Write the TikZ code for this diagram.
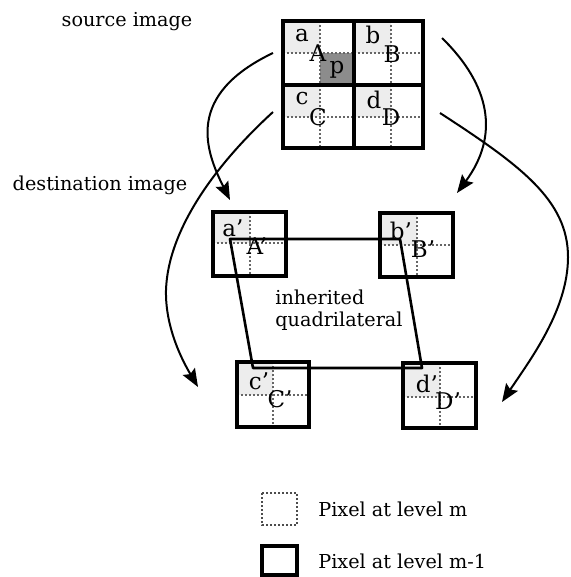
\documentclass[tikz,border=0pt]{standalone}
\usepackage{fontspec}
\setmainfont{DejaVu Serif}
\usetikzlibrary{arrows.meta}
\definecolor{lightpix}{gray}{0.93}
\definecolor{darkpix}{gray}{0.55}
\definecolor{dotgray}{gray}{0.4}

\begin{document}
\begin{tikzpicture}[x=0.5pt,y=-0.5pt,
    every node/.style={inner sep=0pt,font=\fontsize{9.6}{11}\selectfont},
    letter/.style={font=\fontsize{11.5}{12}\selectfont},
    pixel/.style={draw,line width=1.6pt},
    subpix/.style={draw=dotgray,line width=0.85pt,dash pattern=on 0.9pt off 1.1pt},
    quad/.style={draw,line width=1.3pt,line join=round},
    mapto/.style={draw,line width=1pt,-{Stealth[length=9pt,width=7pt,inset=1.5pt]}}]
    \useasboundingbox (0,0) rectangle (571,577);
    % source image: four pixels of level m-1
    \fill[darkpix] (320,53) rectangle (354,85);
    \foreach \x/\y/\mx/\my/\X/\Y in {283/21/320/53/354/85, 354/21/391/53/423/85,
      283/85/320/117/354/148, 354/85/391/117/423/148}
    {
      \fill[lightpix] (\x,\y) rectangle (\mx,\my);
      \draw[subpix] (\mx,\y) -- (\mx,\Y) (\x,\my) -- (\X,\my);
      \draw[pixel] (\x,\y) rectangle (\X,\Y);
    }
    \node[letter] (sa) at (302,36) {a};
    \node[letter] (sA) at (318,53) {A};
    \node[letter] (sp) at (337,70) {p};
    \node[letter] (sb) at (373,35) {b};
    \node[letter] (sB) at (392,54) {B};
    \node[letter] (sc) at (302,99) {c};
    \node[letter] (sC) at (318,117) {C};
    \node[letter] (sd) at (374,100) {d};
    \node[letter] (sD) at (391,117) {D};
    % destination image
    \foreach \x/\y/\mx/\my/\X/\Y in {213/212/250/243/286/276, 380/213/417/245/453/277,
      237/362/273/395/309/427, 403/363/440/397/476/428}
    {
      \fill[lightpix] (\x,\y) rectangle (\mx,\my);
      \draw[subpix] (\mx,\y) -- (\mx,\Y) (\x,\my) -- (\X,\my);
      \draw[pixel] (\x,\y) rectangle (\X,\Y);
    }
    \node[letter] (da) at (233,228) {a’};
    \node[letter] (dA) at (257,246) {A’};
    \node[letter] (db) at (401,231) {b’};
    \node[letter] (dB) at (423,249) {B’};
    \node[letter] (dc) at (259,381) {c’};
    \node[letter] (dC) at (280,399) {C’};
    \node[letter] (dd) at (427,384) {d’};
    \node[letter] (dD) at (448,401) {D’};
    % inherited quadrilateral
    \coordinate (qa) at (230,239);
    \coordinate (qb) at (400,239);
    \coordinate (qd) at (422,368);
    \coordinate (qc) at (253,368);
    \draw[quad] (qa) -- (qb) -- (qd) -- (qc) -- cycle;
    \node[align=left,anchor=west] (inh) at (275,310) {inherited\\quadrilateral};
    % captions
    \node (src) at (127,22) {source image};
    \node (dst) at (100,185) {destination image};
    % mappings
    \coordinate (fa) at (273,53);  \coordinate (ta) at (230,200);
    \coordinate (fb) at (442,38);  \coordinate (tb) at (457,193);
    \coordinate (fc) at (273,112); \coordinate (tc) at (198,387);
    \coordinate (fd) at (440,113); \coordinate (td) at (502,402);
    \draw[mapto] (fa) .. controls (185,95) and (205,150) .. (ta);
    \draw[mapto] (fb) .. controls (490,85) and (500,135) .. (tb);
    \draw[mapto] (fc) .. controls (215,165) and (168,230) .. (166,290)
      .. controls (165,330) and (185,365) .. (tc);
    \draw[mapto] (fd) .. controls (520,165) and (568,200) .. (568,257)
      .. controls (568,310) and (530,360) .. (td);
    % legend
    \draw[subpix,draw=black!70] (262,493) rectangle (297,525);
    \node[anchor=west] (lgm) at (318,509) {Pixel at level m};
    \draw[pixel] (262,546) rectangle (297,575);
    \node[anchor=west] (lgn) at (318,561) {Pixel at level m-1};
\end{tikzpicture}
\end{document}
